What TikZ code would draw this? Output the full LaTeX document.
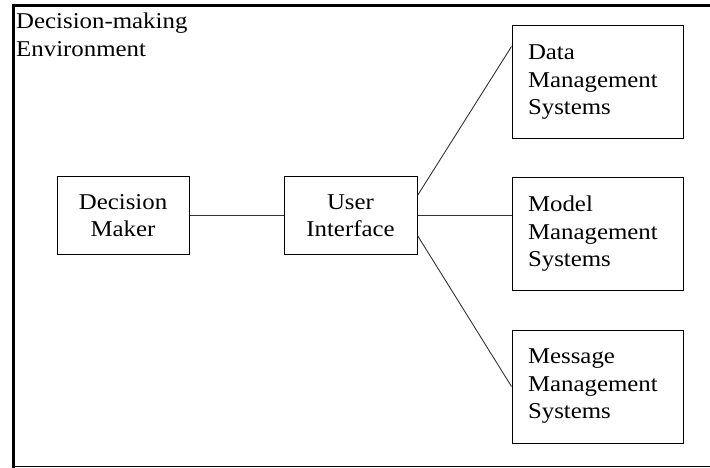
\documentclass[tikz,border=0pt]{standalone}
\usepackage{fontspec}
\setmainfont{Liberation Serif}[FakeStretch=1.1]
\begin{document}
\begin{tikzpicture}[x=1pt,y=-1pt,
	every node/.style={font=\fontsize{22.6}{27.5}\selectfont},
	box/.style={draw=black, line width=1pt, minimum height=77pt, align=center, inner sep=0pt},
	sysbox/.style={draw=black, line width=1pt, minimum height=113pt, text width=139pt, inner xsep=16pt, inner ysep=0pt, align=left},
	link/.style={black!80, line width=0.9pt}]
				\useasboundingbox (0,0) rectangle (710,468);
				% environment frame
				\draw[line width=3pt] (12,5.5)--(710,5.5);
				\draw[line width=3.5pt] (13.5,4)--(13.5,468);
				\draw[line width=1pt] (15,466.5)--(710,466.5);
				\node[anchor=north west, align=left, inner sep=0pt] (env) at (16,13){Decision-making\\Environment};
				\node[box, minimum width=132pt] (maker) at (123,215.5){Decision\\Maker};
				\node[box, minimum width=133pt] (ui) at (350.5,215.5){User\\Interface};
				\node[sysbox] (data) at (597.5,82.5){Data\\Management\\Systems};
				\node[sysbox, minimum height=112pt] (model) at (597.5,234){Model\\Management\\Systems};
				\node[sysbox] (message) at (597.5,386.5){Message\\Management\\Systems};
				% links
				\draw[link] (maker)--(ui);
				\draw[link] ([yshift=20pt]ui.east)--([yshift=-21pt]data.north west);
				\draw[link] (ui.east)--(ui.east -| model.west);
				\draw[link] ([yshift=-20pt]ui.east)--(message.west);
			\end{tikzpicture}
\end{document}
